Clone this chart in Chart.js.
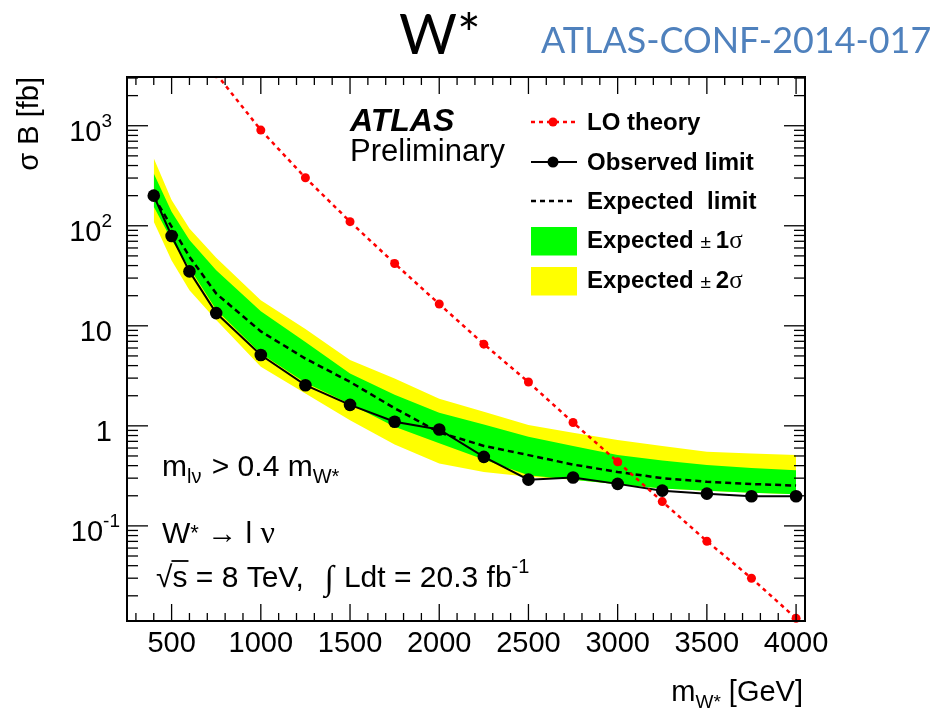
<!DOCTYPE html>
<html>
<head>
<meta charset="utf-8">
<script src="https://cdn.jsdelivr.net/npm/chart.js@4.4.1/dist/chart.umd.min.js"></script>
<style>
  html, body { margin: 0; padding: 0; background: #fff; }
  #wrap { position: relative; width: 941px; height: 714px; }
</style>
</head>
<body>
<div id="wrap"><canvas id="wstarChart" width="941" height="714"></canvas></div>
<script>
// W* -> l nu limits
var masses = [400, 500, 600, 750, 1000, 1250, 1500, 1750, 2000, 2250, 2500, 2750, 3000, 3250, 3500, 3750, 4000];
var observed = [200, 79, 35, 13.4, 5.1, 2.55, 1.62, 1.1, 0.92, 0.49, 0.29, 0.305, 0.263, 0.225, 0.21, 0.198, 0.198];
var expected = [195, 98, 49, 21, 8.8, 4.7, 2.75, 1.5, 0.86, 0.63, 0.51, 0.41, 0.346, 0.30, 0.276, 0.262, 0.253];
var plus1 = [334, 138, 72, 36, 14, 6.9, 3.34, 2.05, 1.35, 1.03, 0.78, 0.63, 0.51, 0.45, 0.405, 0.38, 0.36];
var minus1 = [155, 72, 38, 14.5, 5.3, 2.7, 1.65, 0.98, 0.67, 0.46, 0.32, 0.29, 0.26, 0.237, 0.224, 0.214, 0.207];
var plus2 = [472, 181, 94, 48, 18, 9.3, 4.54, 2.98, 1.87, 1.38, 1.02, 0.855, 0.72, 0.63, 0.55, 0.53, 0.51];
var minus2 = [110, 45, 22.7, 11.4, 3.9, 2.1, 1.14, 0.65, 0.42, 0.345, 0.31, 0.29, 0.26, 0.237, 0.224, 0.214, 0.207];

var theoryMasses = [750, 1000, 1250, 1500, 1750, 2000, 2250, 2500, 2750, 3000, 3250, 3500, 3750, 4000];
var theory = [3300, 905, 302, 110, 42, 16.5, 6.56, 2.74, 1.08, 0.437, 0.175, 0.0703, 0.030, 0.0119];

var xTicks = [500, 1000, 1500, 2000, 2500, 3000, 3500, 4000];
var yTicks = [1000, 100, 10, 1, 0.1];
var yTickBase = ['10', '10', '10', '1', '10'];
var yTickSup = ['3', '2', '', '', '-1'];

var SANS = '"Liberation Sans", Arial, Helvetica, sans-serif';
var SERIF = '"Liberation Serif", "DejaVu Serif", serif';
var SLIDE = 'Lato, "Open Sans", sans-serif';

function toXY(xs, ys) {
    return xs.map(function(x, i) { return {x: x, y: ys[i]}; });
}

// draws a list of text pieces one after the other, returns the end x
function richText(ctx, x, y, parts, measureOnly) {
    var cx = x;
    parts.forEach(function(p) {
        ctx.font = p.font;
        if (!measureOnly) ctx.fillText(p.t, cx, y + (p.dy || 0));
        cx += ctx.measureText(p.t).width + (p.gap || 0);
    });
    return cx;
}

function seg(ctx, x1, y1, x2, y2) {
    ctx.beginPath();
    ctx.moveTo(x1, y1);
    ctx.lineTo(x2, y2);
    ctx.stroke();
}

var decorPlugin = {
    id: 'atlasDecor',
    afterDraw: function(chart) {
        var ctx = chart.ctx;
        var a = chart.chartArea;
        var xs = chart.scales.x;
        var ys = chart.scales.y;
        ctx.save();
        ctx.fillStyle = '#000';
        ctx.strokeStyle = '#000';

        // frame
        ctx.lineWidth = 2;
        ctx.strokeRect(a.left, a.top, a.right - a.left, a.bottom - a.top);

        // x ticks (bottom and top, pointing inwards)
        ctx.lineWidth = 1.3;
        for (var m = 300; m <= 4000; m += 100) {
            var px = xs.getPixelForValue(m);
            var len = (m % 500 === 0) ? 17 : 8;
            seg(ctx, px, a.bottom, px, a.bottom - len);
            seg(ctx, px, a.top, px, a.top + len);
        }
        // y ticks (left and right)
        for (var e = -2; e <= 3; e++) {
            for (var k = 1; k <= 9; k++) {
                var v = k * Math.pow(10, e);
                if (v < ys.min || v > ys.max) continue;
                var py = ys.getPixelForValue(v);
                var l = (k === 1) ? 21 : 11;
                seg(ctx, a.left, py, a.left + l, py);
                seg(ctx, a.right, py, a.right - l, py);
            }
        }

        // x tick labels
        ctx.font = '29px ' + SANS;
        ctx.textAlign = 'center';
        ctx.textBaseline = 'alphabetic';
        xTicks.forEach(function(t) {
            ctx.fillText(String(t), xs.getPixelForValue(t), 652);
        });

        // y tick labels with superscripts
        ctx.textAlign = 'left';
        yTicks.forEach(function(t, i) {
            var py = ys.getPixelForValue(t) + 15;
            var parts = [{t: yTickBase[i], font: '29px ' + SANS}];
            if (yTickSup[i]) parts.push({t: yTickSup[i], font: '19px ' + SANS, dy: -14});
            var w = richText(ctx, 0, 0, parts, true);
            var right = (yTickSup[i].length > 1) ? 120 : 112;
            richText(ctx, right - w, py, parts);
        });

        // y axis title
        ctx.save();
        ctx.translate(38, a.top);
        ctx.rotate(-Math.PI / 2);
        ctx.textAlign = 'right';
        ctx.font = '29px ' + SANS;
        ctx.fillText('\u03c3 B [fb]', 0, 0);
        ctx.restore();

        // x axis title
        ctx.textAlign = 'left';
        var xt = [
            {t: 'm', font: '29px ' + SANS},
            {t: 'W*', font: '19px ' + SANS, dy: 7},
            {t: ' [GeV]', font: '29px ' + SANS}
        ];
        var xw = richText(ctx, 0, 0, xt, true);
        richText(ctx, 803 - xw, 701, xt);

        // ATLAS Preliminary
        ctx.font = 'italic bold 32px ' + SANS;
        ctx.fillText('ATLAS', 350, 131);
        ctx.font = '31px ' + SANS;
        ctx.fillText('Preliminary', 350, 161);

        // legend
        var lx1 = 531, lx2 = 575, lmid = 553, tx = 587;
        var bold = 'bold 24px ' + SANS;
        ctx.lineWidth = 2.5;
        ctx.strokeStyle = '#ff0000';
        ctx.setLineDash([4, 4]);
        seg(ctx, lx1, 122, lx2, 122);
        ctx.setLineDash([]);
        ctx.fillStyle = '#ff0000';
        ctx.beginPath(); ctx.arc(lmid, 122, 4.5, 0, Math.PI * 2); ctx.fill();
        ctx.fillStyle = '#000';
        ctx.strokeStyle = '#000';
        ctx.font = bold;
        ctx.fillText('LO theory', tx, 129.5);

        ctx.lineWidth = 2;
        seg(ctx, lx1, 162, lx2 + 2, 162);
        ctx.beginPath(); ctx.arc(lmid, 162, 5.5, 0, Math.PI * 2); ctx.fill();
        ctx.fillText('Observed limit', tx, 169.5);

        ctx.lineWidth = 2.5;
        ctx.setLineDash([5, 4]);
        seg(ctx, lx1, 201, lx2, 201);
        ctx.setLineDash([]);
        ctx.fillText('Expected  limit', tx, 209);

        ctx.fillStyle = '#00ff00';
        ctx.fillRect(lx1, 227, 46, 28.5);
        ctx.fillStyle = '#ffff00';
        ctx.fillRect(lx1, 267, 46, 28.5);
        ctx.fillStyle = '#000';
        richText(ctx, tx, 248, [
            {t: 'Expected ', font: bold},
            {t: '\u00b1', font: '19px ' + SANS, gap: 5},
            {t: '1', font: bold},
            {t: '\u03c3', font: '25px ' + SERIF}
        ]);
        richText(ctx, tx, 288, [
            {t: 'Expected ', font: bold},
            {t: '\u00b1', font: '19px ' + SANS, gap: 5},
            {t: '2', font: bold},
            {t: '\u03c3', font: '25px ' + SERIF}
        ]);

        // annotations
        var f30 = '30px ' + SANS;
        var f20 = '20px ' + SANS;
        richText(ctx, 162, 476, [
            {t: 'm', font: f30},
            {t: 'l\u03bd', font: f20, dy: 7, gap: 2},
            {t: ' > 0.4 m', font: f30},
            {t: 'W*', font: f20, dy: 7}
        ]);
        richText(ctx, 162, 543, [
            {t: 'W', font: f30},
            {t: '*', font: '22px ' + SANS, dy: -3},
            {t: ' \u2192 l ', font: f30},
            {t: '\u03bd', font: '32px ' + SERIF}
        ]);
        var rx = richText(ctx, 156, 587, [{t: '\u221a', font: f30}]);
        var sx = richText(ctx, rx, 587, [{t: 's', font: f30}]);
        ctx.lineWidth = 1.8;
        seg(ctx, rx - 1, 561, sx + 1, 561);
        richText(ctx, sx, 587, [
            {t: ' = 8 TeV,  ', font: f30, gap: 4},
            {t: '\u222b', font: 'italic 34px ' + SERIF, dy: 2, gap: 10},
            {t: 'Ldt = 20.3 fb', font: f30},
            {t: '-1', font: f20, dy: -14}
        ]);

        // page title
        ctx.font = '56px ' + SLIDE;
        ctx.fillText('W*', 399, 54);
        var conf = 'ATLAS-CONF-2014-017';
        ctx.font = '44px ' + SLIDE;
        var cw = ctx.measureText(conf).width;
        var fs = 44 * 390 / cw;
        ctx.font = fs.toFixed(1) + 'px ' + SLIDE;
        ctx.fillStyle = '#4f81bd';
        ctx.fillText(conf, 541, 53);

        ctx.restore();
    }
};

var bandEdge = function(label, values, color, fillTarget, order) {
    return {
        label: label,
        data: toXY(masses, values),
        borderWidth: 0,
        borderColor: 'rgba(0,0,0,0)',
        backgroundColor: color,
        pointRadius: 0,
        fill: fillTarget,
        tension: 0,
        order: order
    };
};

var chart = new Chart(document.getElementById('wstarChart'), {
    type: 'line',
    data: {
        datasets: [{
            label: 'LO theory',
            data: toXY(theoryMasses, theory),
            borderColor: '#ff0000',
            backgroundColor: '#ff0000',
            borderWidth: 2.5,
            borderDash: [4, 4],
            pointRadius: 4.5,
            pointBorderWidth: 0,
            fill: false,
            clip: {left: 0, top: 0, right: 8, bottom: 8},
            order: 0
        }, {
            label: 'Observed limit',
            data: toXY(masses, observed),
            borderColor: '#000',
            backgroundColor: '#000',
            borderWidth: 2,
            pointRadius: 6.3,
            pointBorderWidth: 0,
            fill: false,
            clip: 8,
            order: 1
        }, {
            label: 'Expected  limit',
            data: toXY(masses, expected),
            borderColor: '#000',
            borderWidth: 2.5,
            borderDash: [6, 4],
            pointRadius: 0,
            fill: false,
            order: 2
        },
            bandEdge('Expected +1 sigma', plus1, '#00ff00', 4, 3),
            bandEdge('Expected -1 sigma', minus1, '#00ff00', false, 3),
            bandEdge('Expected +2 sigma', plus2, '#ffff00', 6, 4),
            bandEdge('Expected -2 sigma', minus2, '#ffff00', false, 4)
        ]
    },
    options: {
        responsive: false,
        animation: false,
        layout: {padding: {top: 77, right: 136, left: 0, bottom: 0}},
        plugins: {
            legend: {display: false},
            tooltip: {enabled: false},
            filler: {propagate: false}
        },
        scales: {
            x: {
                type: 'linear',
                min: 250,
                max: 4050,
                grid: {display: false},
                border: {display: false},
                ticks: {display: false},
                afterFit: function(scale) { scale.height = 93; }
            },
            y: {
                type: 'logarithmic',
                min: 0.0112,
                max: 3070,
                grid: {display: false},
                border: {display: false},
                ticks: {display: false},
                afterFit: function(scale) { scale.width = 127; }
            }
        }
    },
    plugins: [decorPlugin]
});
</script>
</body>
</html>
